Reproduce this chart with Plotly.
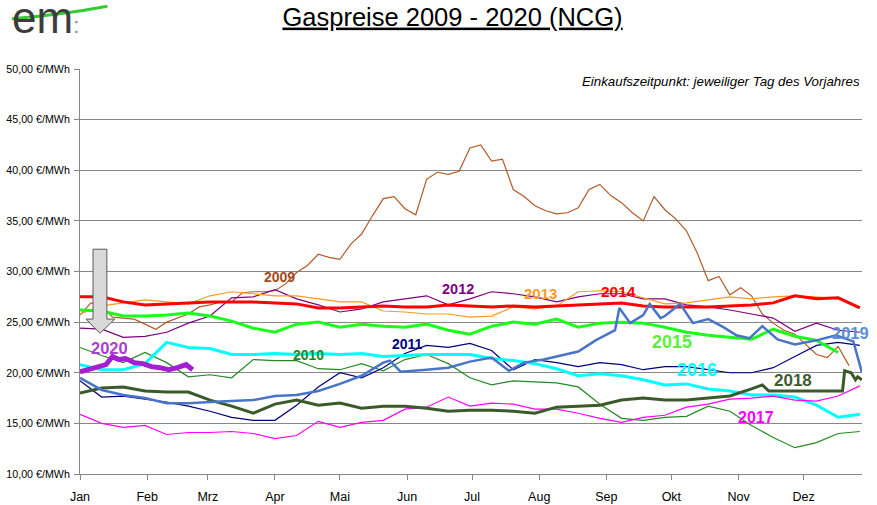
import plotly.graph_objects as go

# Tage ab 1. Januar (gemeinsames Raster, 10 Tage)
tage = list(range(0, 361, 10))
tage_2009 = list(range(0, 356, 5))
tage_2018 = list(range(0, 311, 10)) + [315, 318, 352, 353, 356, 358, 359, 361]
tage_2019 = [0, 10, 20, 30, 40, 50, 60, 70, 80, 90, 100, 110, 120, 130, 140, 143, 148,
             160, 170, 180, 190, 198, 205, 214, 224, 230, 238, 244, 247, 249, 254, 260,
             263, 268, 270, 277, 283, 290, 297, 303, 309, 315, 322, 330, 340, 349, 357, 361]
tage_2020 = [0, 4, 8, 12, 15, 18, 21, 25, 29, 33, 37, 41, 45, 49, 52]

# Preise in EUR/MWh
p2009 = [25.7, 26.9, 26.6, 25.5, 25.4, 25.3, 24.8, 24.3, 25.0, 25.4, 25.8, 26.5, 26.7, 27.0,
         27.0, 27.9, 28.0, 28.0, 28.1, 28.8, 29.9, 30.6, 31.7, 31.4, 31.2, 32.7, 33.7, 35.5,
         37.2, 37.4, 36.2, 35.6, 39.1, 39.8, 39.6, 39.9, 42.2, 42.5, 40.9, 41.1, 38.1, 37.4,
         36.5, 36.0, 35.7, 35.8, 36.3, 38.1, 38.6, 37.5, 36.8, 35.8, 35.0, 37.4, 36.1, 35.2,
         34.0, 31.8, 29.1, 29.5, 27.7, 28.4, 27.6, 25.8, 24.9, 24.2, 23.8, 22.8, 21.8, 21.5,
         22.6, 20.7]
p2010 = [22.5, 21.7, 21.0, 22.0, 21.0, 19.6, 19.8, 19.5, 21.3, 21.2, 21.2, 20.4, 20.3, 20.9,
         20.2, 21.3, 21.8, 20.9, 19.5, 18.8, 19.2, 19.1, 19.0, 18.6, 16.9, 15.5, 15.3, 15.6,
         15.7, 16.7, 16.2, 14.8, 13.6, 12.6, 13.1, 14.0, 14.2]
p2011 = [19.2, 17.6, 17.7, 17.4, 17.1, 16.7, 16.2, 15.6, 15.3, 15.3, 16.8, 18.6, 20.0, 19.5,
         20.5, 21.9, 22.7, 22.5, 22.9, 22.2, 20.3, 21.3, 21.0, 20.6, 21.0, 20.8, 20.3, 20.6,
         20.6, 20.3, 20.0, 20.0, 20.5, 21.6, 22.7, 23.0, 22.7]
p2012 = [24.4, 24.3, 23.5, 23.6, 24.0, 24.9, 25.6, 27.4, 27.5, 28.2, 27.3, 26.7, 26.0, 26.3,
         27.0, 27.3, 27.6, 26.7, 27.3, 28.0, 27.8, 27.5, 27.0, 27.5, 27.8, 27.8, 27.3, 27.3,
         26.7, 26.5, 26.2, 25.8, 25.4, 24.1, 24.9, 24.2, 24.0]
p2013 = [25.8, 26.6, 26.9, 27.2, 27.0, 26.8, 27.6, 28.0, 27.8, 27.6, 27.6, 27.3, 27.0, 27.0,
         26.1, 26.0, 25.8, 25.8, 25.5, 25.6, 26.5, 26.3, 26.6, 28.0, 28.1, 28.0, 27.4, 26.8,
         26.9, 27.2, 27.5, 27.3, 27.5, 27.6, 27.5, 27.3, None]
p2014 = [27.5, 27.5, 27.0, 26.7, 26.8, 26.9, 27.0, 27.0, 27.0, 26.9, 26.8, 26.4, 26.4, 26.5,
         26.6, 26.5, 26.5, 26.7, 26.6, 26.5, 26.6, 26.5, 26.6, 26.7, 26.8, 26.9, 26.6, 26.5,
         26.5, 26.5, 26.6, 26.7, 26.9, 27.6, 27.3, 27.4, 26.4]
p2015 = [26.2, 26.1, 25.6, 25.6, 25.7, 25.9, 25.6, 25.1, 24.4, 24.0, 24.8, 25.0, 24.5, 24.8,
         24.6, 24.5, 24.8, 24.2, 23.8, 24.6, 25.0, 24.8, 25.3, 24.5, 24.9, 25.0, 24.9, 24.5,
         24.0, 23.7, 23.5, 23.3, 24.3, 23.6, 23.2, 22.0, None]
p2016 = [20.8, 20.3, 20.3, 20.9, 23.0, 22.5, 22.4, 21.8, 21.8, 21.9, 21.8, 21.9, 21.8, 21.9,
         21.6, 21.7, 21.8, 21.8, 21.8, 21.4, 21.2, 20.9, 20.4, 19.7, 19.9, 19.7, 19.3, 18.8,
         18.9, 18.4, 18.2, 17.8, 17.8, 17.6, 16.8, 15.6, 15.9]
p2017 = [15.9, 15.0, 14.6, 14.8, 13.9, 14.1, 14.1, 14.2, 14.0, 13.5, 13.8, 15.2, 14.6, 15.1,
         15.3, 16.4, 16.6, 17.6, 16.7, 17.0, 16.9, 16.4, 16.4, 16.0, 15.5, 15.1, 15.6, 15.8,
         16.6, 16.9, 17.4, 17.5, 17.7, 17.3, 17.2, 17.7, 18.7]
p2018 = [18.0, 18.5, 18.6, 18.2, 18.1, 18.1, 17.3, 16.7, 16.0, 16.9, 17.3, 16.8, 17.0, 16.5,
         16.7, 16.7, 16.5, 16.2, 16.3, 16.3, 16.2, 16.0, 16.6, 16.7, 16.8, 17.3, 17.5, 17.3,
         17.3, 17.5, 17.7, 18.4, 18.8, 18.2, 18.2, 20.2, 20.0, 19.3, 19.6, 19.3]
p2019 = [19.5, 18.3, 17.8, 17.5, 17.0, 17.0, 17.1, 17.2, 17.3, 17.7, 17.8, 18.2, 18.9, 19.7,
         21.0, 21.2, 20.1, 20.3, 20.5, 21.1, 21.5, 20.2, 21.0, 21.3, 21.8, 22.1, 23.2, 23.9,
         24.2, 26.4, 24.9, 25.7, 26.8, 25.4, 25.6, 26.8, 24.9, 25.3, 24.5, 23.7, 23.4, 24.6,
         23.3, 22.8, 23.2, 23.7, 23.1, 20.0]
p2020 = [20.1, 20.3, 20.5, 20.8, 21.6, 21.3, 21.4, 21.0, 20.9, 20.6, 20.5, 20.3, 20.5, 20.8, 20.3]

monate = ["Jan", "Feb", "Mrz", "Apr", "Mai", "Jun", "Jul", "Aug", "Sep", "Okt", "Nov", "Dez"]
monat_start = [0, 31, 59, 90, 120, 151, 181, 212, 243, 273, 304, 334]
y_ticks = [10, 15, 20, 25, 30, 35, 40, 45, 50]
y_text = [f"{v},00 €/MWh" for v in y_ticks]

FONT = "Arial, Liberation Sans, sans-serif"
GRAU = "#878787"

# name, x, y, farbe, breite
serien = [
    ("2009", tage_2009, p2009, "#b35a28", 1.2),
    ("2010", tage, p2010, "#228b22", 1.2),
    ("2011", tage, p2011, "#00007f", 1.2),
    ("2012", tage, p2012, "#800080", 1.2),
    ("2013", tage, p2013, "#ff9a1a", 1.2),
    ("2014", tage, p2014, "#ff0000", 3),
    ("2015", tage, p2015, "#19ff19", 3),
    ("2016", tage, p2016, "#00ffff", 3),
    ("2017", tage, p2017, "#ff00ff", 1.2),
    ("2018", tage_2018, p2018, "#3b5a2a", 3),
    ("2019", tage_2019, p2019, "#4a74c9", 2.5),
    ("2020", tage_2020, p2020, "#a51fd2", 5),
]

fig = go.Figure()
for name, x, y, farbe, breite in serien:
    fig.add_trace(go.Scatter(x=x, y=y, mode="lines", name=name,
                             line=dict(color=farbe, width=breite)))

# Jahresbeschriftungen: text, tag, wert, farbe, groesse
beschriftung = [
    ("2009", 92, 29.7, "#a34a18", 14),
    ("2010", 105.5, 21.95, "#1a8c1a", 14),
    ("2011", 151, 23.05, "#00007f", 14),
    ("2012", 174.5, 28.45, "#800080", 14.5),
    ("2013", 212.5, 28.0, "#ff9a1a", 15),
    ("2014", 248.5, 28.2, "#ff0000", 15.5),
    ("2015", 273.5, 23.25, "#5cf03a", 18),
    ("2016", 285, 20.5, "#00ffff", 18),
    ("2017", 312, 15.75, "#ff00ff", 16),
    ("2018", 329.3, 19.4, "#3f5a2f", 17),
    ("2019", 355.5, 24.15, "#5b8fd6", 16.5),
    ("2020", 13.8, 22.65, "#a83fd0", 16.5),
]
for text, x, y, farbe, groesse in beschriftung:
    fig.add_annotation(x=x, y=y, text=f"<b>{text}</b>", showarrow=False,
                       xanchor="center", yanchor="middle", yshift=-2,
                       font=dict(family=FONT, size=groesse, color=farbe))

# grauer Pfeil auf 2020
fig.add_shape(type="path", xref="x", yref="y",
              path="M 6.0 32.2 L 12.4 32.2 L 12.4 25.3 L 16.1 25.3 L 9.2 23.9 "
                   "L 2.8 25.3 L 6.0 25.3 Z",
              fillcolor="#d9d9d9", line=dict(color="#595959", width=1), layer="above")

# Logo em:
fig.add_annotation(xref="paper", yref="paper", x=-0.089, y=1.128, xanchor="left",
                   yanchor="middle", showarrow=False,
                   text="em<span style='color:#8c8c8c;font-size:22px'>:</span>",
                   font=dict(family=FONT, size=44, color="#3c3c3c"))
fig.add_shape(type="path", xref="paper", yref="paper",
              path="M -0.087 1.124 Q -0.02 1.135 0.035 1.155",
              line=dict(color="#33cc33", width=3), layer="above")

fig.add_annotation(xref="paper", yref="paper", x=1.0, y=0.968, xanchor="right",
                   yanchor="middle",
                   text="<i>Einkaufszeitpunkt: jeweiliger Tag des Vorjahres</i>",
                   showarrow=False, font=dict(family=FONT, size=13.3, color="#000000"))

fig.update_layout(
    width=877, height=505, autosize=False,
    title=dict(text="<u>Gaspreise 2009 - 2020 (NCG)</u>", x=0.516, xanchor="center",
               y=0.967, yanchor="middle", yref="container",
               font=dict(family=FONT, size=25.5, color="#000000")),
    margin=dict(l=80, r=15, t=69, b=31),
    plot_bgcolor="white", paper_bgcolor="white",
    showlegend=False,
    font=dict(family=FONT, color="#000000"),
)
fig.update_xaxes(range=[0, 361], tickvals=monat_start, ticktext=monate, automargin=False,
                 showgrid=False, zeroline=False, showline=True, linecolor=GRAU,
                 ticks="outside", ticklen=5, tickcolor=GRAU, ticklabelstandoff=6,
                 tickfont=dict(family=FONT, size=12.5, color="#000000"))
fig.update_yaxes(range=[10, 50], tickvals=y_ticks, ticktext=y_text, automargin=False,
                 showgrid=True, gridcolor=GRAU, gridwidth=1, zeroline=False,
                 showline=True, linecolor=GRAU, ticks="outside", ticklen=5, tickcolor=GRAU,
                 ticklabelstandoff=2,
                 tickfont=dict(family=FONT, size=10.7, color="#000000"))

fig.write_html("out.html", config={"displayModeBar": False},
               post_script="document.body.style.margin='0';")
